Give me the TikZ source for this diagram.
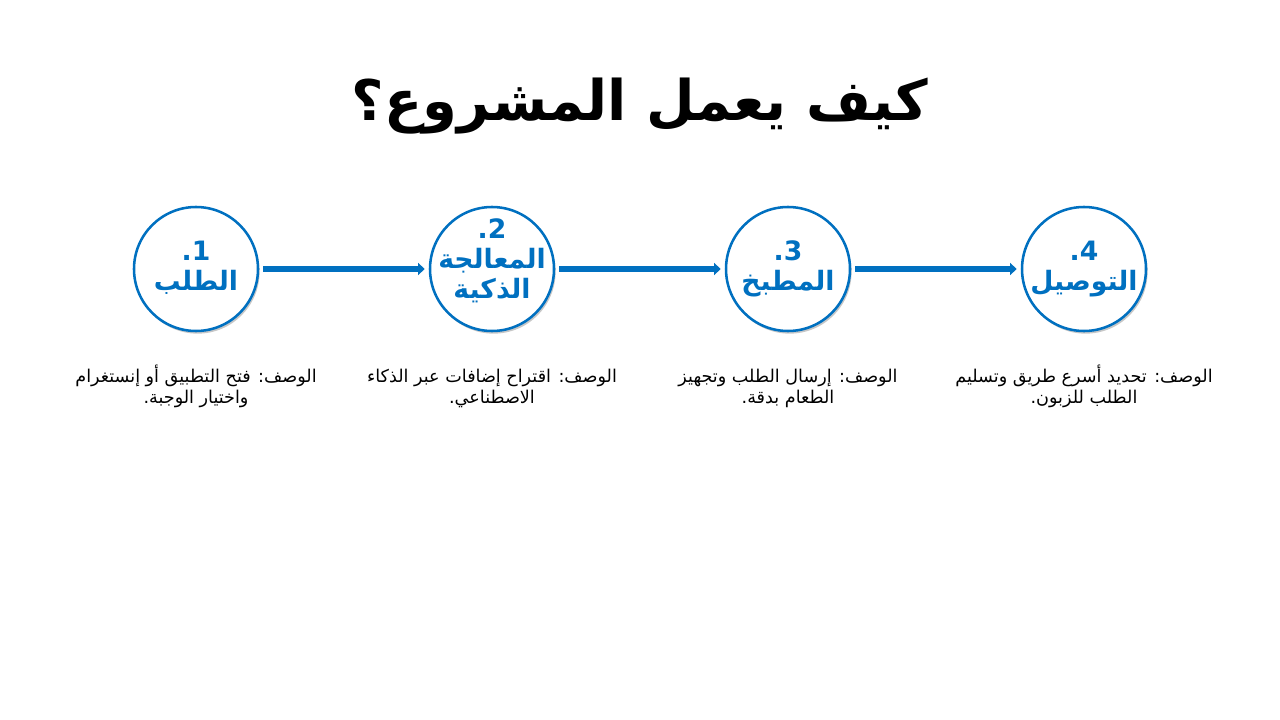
\documentclass[tikz,border=0pt]{standalone}
\usepackage{fontspec}
\setmainfont{DejaVu Sans}
\newfontfamily\arabicfont[Script=Arabic]{DejaVu Sans}
\TeXXeTstate=1
\usepackage{tikz}
\usetikzlibrary{arrows.meta, positioning, shadows}

\definecolor{stepblue}{HTML}{0070C0}

\begin{document}
\begin{tikzpicture}[x=0.75pt, y=-0.75pt,
  stage/.style={circle, draw=stepblue, line width=1.9pt, fill=white,
                minimum size=93pt, inner sep=0pt, align=center,
                text=stepblue, font=\arabicfont\bfseries\fontsize{20}{22.5}\selectfont,
                text height=32pt, text depth=-2pt,
                drop shadow={shadow xshift=1.2pt, shadow yshift=-2pt,
                             opacity=0.22, fill=black}},
  desc/.style={align=center, font=\arabicfont\fontsize{13.2}{16}\selectfont,
               inner sep=0pt, text height=6pt, text depth=6pt},
  arr/.style={-{Triangle[length=5pt, width=9pt]}, line width=5pt, stepblue,
              shorten <=3pt, shorten >=3pt},
  node distance=222pt]
  \useasboundingbox (0,0) rectangle (1280,720);
  % title
  \node[font=\arabicfont\bfseries\fontsize{42}{48}\selectfont] (title) at (640,106)
    {\beginR كيف يعمل المشروع؟\endR};
  % stages
  \node[stage] (order) at (196,269) {1.\\ \beginR الطلب\endR};
  \node[stage, right=of order.center, anchor=center, text height=44pt, text depth=-14pt] (smart)
    {2.\\ \beginR المعالجة\endR\\ \beginR الذكية\endR};
  \node[stage, right=of smart.center, anchor=center] (kitchen) {3.\\ \beginR المطبخ\endR};
  \node[stage, right=of kitchen.center, anchor=center] (delivery) {4.\\ \beginR التوصيل\endR};
  \draw[arr] (order) -- (smart);
  \draw[arr] (smart) -- (kitchen);
  \draw[arr] (kitchen) -- (delivery);
  % descriptions
  \node[desc, below=101pt of order.center, anchor=center] (d1)
    {\beginR الوصف: فتح التطبيق أو إنستغرام\endR\\ \beginR واختيار الوجبة.\endR};
  \node[desc, below=101pt of smart.center, anchor=center] (d2)
    {\beginR الوصف: اقتراح إضافات عبر الذكاء\endR\\ \beginR الاصطناعي.\endR};
  \node[desc, below=101pt of kitchen.center, anchor=center] (d3)
    {\beginR الوصف: إرسال الطلب وتجهيز\endR\\ \beginR الطعام بدقة.\endR};
  \node[desc, below=101pt of delivery.center, anchor=center] (d4)
    {\beginR الوصف: تحديد أسرع طريق وتسليم\endR\\ \beginR الطلب للزبون.\endR};
\end{tikzpicture}
\end{document}
